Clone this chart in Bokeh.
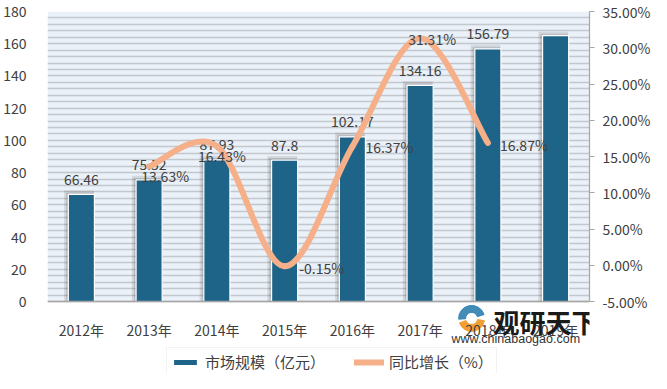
from bokeh.plotting import figure
from bokeh.models import (Range1d, LinearAxis, FixedTicker, PrintfTickFormatter,
                          Legend, LegendItem, ColumnDataSource, Label, BoxAnnotation)
from bokeh.core.properties import value
from bokeh.embed import file_html
from bokeh.resources import INLINE

# ---- data ----
years = ["2012年", "2013年", "2014年", "2015年", "2016年", "2017年", "2018年", "2019年"]
market = [66.46, 75.52, 87.93, 87.8, 102.17, 134.16, 156.79, 165.0]
market_labels = ["66.46", "75.52", "87.93", "87.8", "102.17", "134.16", "156.79", ""]
growth_years = ["2013年", "2014年", "2015年", "2016年", "2017年", "2018年"]
growth = [13.63, 16.43, -0.15, 16.37, 31.31, 16.87]
growth_labels = ["13.63%", "16.43%", "-0.15%", "16.37%", "31.31%", "16.87%"]
left_ticks = [0, 20, 40, 60, 80, 100, 120, 140, 160, 180]
right_ticks = [-5, 0, 5, 10, 15, 20, 25, 30, 35]
grid_ticks = list(range(0, 181, 4))

# ---- style ----
FONT = "Noto Sans CJK SC"
BAR = "#1d6488"
LINE = "#f5b08a"
TXT = "#404040"
label_dx = [16, 5, 37, 37, 12, 36]
label_dy = [10, 10, 2, 0, 1, 2]

YMAX = 180.0
PCT_MIN, PCT_MAX = -5.0, 35.0
PLOT_H = 290.0          # pixel height of the value area
EXT = 72.0              # pixels below the value area (axis labels + legend)
ymin = -EXT * YMAX / PLOT_H
pmin = PCT_MIN - EXT * (PCT_MAX - PCT_MIN) / PLOT_H

xs = [i + 0.5 for i in range(len(years))]
gx = [years.index(y) + 0.5 for y in growth_years]
NX = len(years)

p = figure(frame_width=542, frame_height=int(PLOT_H + EXT), min_border_left=43,
           min_border_right=66, min_border_top=11, min_border_bottom=0,
           x_range=Range1d(0, NX), y_range=Range1d(ymin, YMAX),
           output_backend="svg", toolbar_location=None)
p.extra_y_ranges = {"pct": Range1d(pmin, PCT_MAX)}
p.background_fill_color = "white"
p.border_fill_color = "white"
p.outline_line_color = None

# plot-area background
p.add_layout(BoxAnnotation(left=0, right=NX, bottom=0, top=YMAX, fill_color="#eaf1f8",
                           fill_alpha=1.0, line_color=None, level="image"))

# grid
p.xgrid.grid_line_color = None
p.ygrid.ticker = FixedTicker(ticks=grid_ticks)
p.ygrid.grid_line_color = "#c4c7cb"
p.ygrid.grid_line_width = 1.5

# axes
p.yaxis.ticker = FixedTicker(ticks=left_ticks)
p.yaxis.axis_line_color = None
p.yaxis.major_tick_line_color = None
p.yaxis.minor_tick_line_color = None
p.yaxis.major_label_standoff = 15
p.xaxis.fixed_location = 0
p.xaxis.ticker = FixedTicker(ticks=xs)
p.xaxis.major_label_overrides = {x: y for x, y in zip(xs, years)}
p.xaxis.axis_line_color = "#a6a6a6"
p.xaxis.axis_line_width = 1.5
p.xaxis.major_tick_line_color = None
p.xaxis.minor_tick_line_color = None
p.xaxis.major_label_standoff = 12

ra = LinearAxis(y_range_name="pct", ticker=FixedTicker(ticks=right_ticks),
                formatter=PrintfTickFormatter(format="%.2f%%"), bounds=(PCT_MIN, PCT_MAX))
ra.axis_line_color = "#a6a6a6"
ra.axis_line_width = 1.2
ra.major_tick_line_color = "#a6a6a6"
ra.major_tick_out = 5
ra.major_tick_in = 0
ra.minor_tick_line_color = None
ra.major_label_standoff = 8
p.add_layout(ra, "right")

for ax in [p.xaxis[0], p.yaxis[0], ra]:
    ax.major_label_text_font = FONT
    ax.major_label_text_font_size = "14px"
    ax.major_label_text_color = TXT

# bars with soft shadow
src = ColumnDataSource(dict(x=xs, top=market, lab=market_labels))
p.vbar(x=[x - 0.035 for x in xs], top=[m + 2.5 for m in market], width=0.44,
       fill_color="black", fill_alpha=0.10, line_color=None)
p.vbar(x=[x - 0.02 for x in xs], top=[m + 1.2 for m in market], width=0.41,
       fill_color="black", fill_alpha=0.12, line_color=None)
r_bar = p.vbar(x="x", top="top", width=0.385, source=src, fill_color=BAR,
               line_color="white", line_width=1.2)
p.text(x="x", y="top", text="lab", source=src, text_align="center", text_baseline="middle",
       y_offset=-15, text_font=value(FONT), text_font_size="14px", text_color=TXT)

# smooth growth line (Bezier segments through the points)
n = len(growth)
x0, y0, x1, y1, cx0, cy0, cx1, cy1 = [], [], [], [], [], [], [], []
for i in range(n - 1):
    pa = (gx[max(i - 1, 0)], growth[max(i - 1, 0)])
    pb = (gx[i], growth[i])
    pc = (gx[i + 1], growth[i + 1])
    pd = (gx[min(i + 2, n - 1)], growth[min(i + 2, n - 1)])
    x0.append(pb[0]); y0.append(pb[1]); x1.append(pc[0]); y1.append(pc[1])
    cx0.append(pb[0] + (pc[0] - pa[0]) / 6); cy0.append(pb[1] + (pc[1] - pa[1]) / 6)
    cx1.append(pc[0] - (pd[0] - pb[0]) / 6); cy1.append(pc[1] - (pd[1] - pb[1]) / 6)
r_line = p.bezier(x0=x0, y0=y0, x1=x1, y1=y1, cx0=cx0, cy0=cy0, cx1=cx1, cy1=cy1,
                  y_range_name="pct", line_color=LINE, line_width=6, line_cap="round")

gsrc = ColumnDataSource(dict(x=gx, y=growth, lab=growth_labels, dx=label_dx, dy=label_dy))
p.text(x="x", y="y", text="lab", source=gsrc, y_range_name="pct", x_offset="dx", y_offset="dy",
       text_align="center", text_baseline="middle", text_font=value(FONT),
       text_font_size="14px", text_color=TXT)

legend = Legend(items=[LegendItem(label="市场规模（亿元）", renderers=[r_bar]),
                       LegendItem(label="同比增长（%）", renderers=[r_line])],
                orientation="horizontal", location=(119, -3),
                glyph_width=30, glyph_height=8, label_standoff=5, spacing=29, padding=3,
                label_text_font=FONT, label_text_font_size="15px", label_text_color=TXT,
                border_line_color="#e6e6e6", border_line_width=1,
                background_fill_color="white", background_fill_alpha=1.0)
p.add_layout(legend)

# watermark (logo + text)
p.annular_wedge(x=6.26, y=-10.5, inner_radius=6, outer_radius=13,
                inner_radius_units="screen", outer_radius_units="screen",
                start_angle=0.3, end_angle=3.2, color="#2f7fb0", alpha=0.9)
p.annular_wedge(x=6.26, y=-10.5, inner_radius=6, outer_radius=13,
                inner_radius_units="screen", outer_radius_units="screen",
                start_angle=3.5, end_angle=6.1, color="#f09a2a", alpha=0.95)
p.add_layout(Label(x=6.583, y=-12.5, text="观研天下", text_font=FONT,
                   text_font_size="26px", text_font_style="bold", text_color="#1a1a1a",
                   text_baseline="middle"))
p.add_layout(Label(x=5.963, y=-23.0, text="www.chinabaogao.com", text_font="Liberation Sans",
                   text_font_size="12.5px", text_color="#333333", text_baseline="middle"))

open("out.html", "w").write(file_html(p, INLINE))
